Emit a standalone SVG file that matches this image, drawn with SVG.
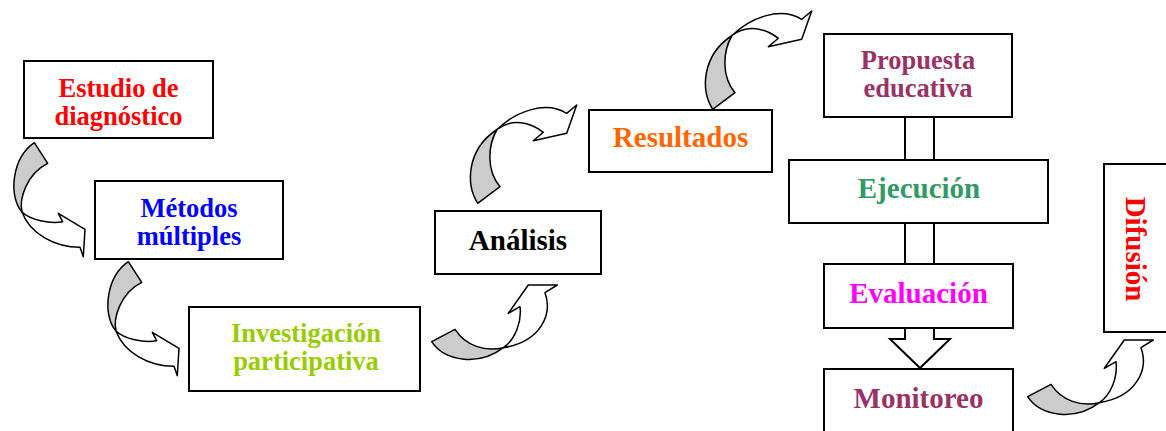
<svg xmlns="http://www.w3.org/2000/svg" xmlns:xlink="http://www.w3.org/1999/xlink" width="1166" height="431" viewBox="0 0 1166 431">
<style>
.box{fill:#fff;stroke:#000;stroke-width:2}
.t{font-family:"Liberation Serif","Times New Roman",serif;font-weight:bold;text-anchor:middle}
.s1{font-size:26.5px}
.s2{font-size:29px}
.back{fill:#cccccc;stroke:#000;stroke-width:1.5;stroke-linejoin:round}
.front{fill:#fff;stroke:#000;stroke-width:1.5;stroke-linejoin:round}
.ln{stroke:#000;stroke-width:2;fill:none}
</style>
<defs>
<g id="arrowA">
<path class="back" d="M34.3,142.7 C12,158 8,196 22,212 C19,200 26,174 47.7,163.3 Z"/>
<path class="front" d="M22,212 C30,220 50,224 62.7,221.7 L58.3,213.3 L85,229.3 L83.3,256.7 L80,247.3 C55,247 30,234 22,212 Z"/>
</g>
<g id="arrowB">
<path class="back" d="M477.7,203.3 C466,185 466,150 497,129.5 C488,145 486,170 500,186.7 Z"/>
<path class="front" d="M497,129.5 C515,112 545,100 566.7,113.3 L576.7,105 L566.7,133.3 L533.3,140.7 L543.3,132.3 C530,122 512,118 497,129.5 Z"/>
</g>
<g id="arrowC">
<path class="back" d="M431.7,341.7 C445,362 480,366 503.3,347.7 C485,352 466,346 455,329.3 Z"/>
<path class="front" d="M503.3,347.7 C515,340 522,322 520,306.7 L508.3,313.3 L528.3,285 L557.3,285 L545,292.7 C553,315 540,342 503.3,347.7 Z"/>
</g>
</defs>
<g id="connectors">
<use xlink:href="#arrowA"/>
<use xlink:href="#arrowA" transform="translate(94,119)"/>
<use xlink:href="#arrowC"/>
<use xlink:href="#arrowB"/>
<use xlink:href="#arrowB" transform="translate(235,-94)"/>
<use xlink:href="#arrowC" transform="translate(596,55)"/>
<line class="ln" x1="905" y1="117" x2="905" y2="160"/>
<line class="ln" x1="934" y1="117" x2="934" y2="160"/>
<line class="ln" x1="905" y1="223" x2="905" y2="264"/>
<line class="ln" x1="934" y1="223" x2="934" y2="264"/>
<path d="M905,328 L905,339 L890,339 L920,368 L950,339 L934,339 L934,328" fill="#fff" stroke="#000" stroke-width="2" stroke-linejoin="miter"/>
</g>
<g id="estudio">
<rect class="box" x="24" y="61" width="189" height="77"/>
<text class="t s1" x="118.5" y="96.5" fill="#ff0000">Estudio de</text>
<text class="t s1" x="118.5" y="124.5" fill="#ff0000">diagnóstico</text>
</g>
<g id="metodos">
<rect class="box" x="95" y="181" width="188" height="78"/>
<text class="t s1" x="189" y="216.5" fill="#0000ff">Métodos</text>
<text class="t s1" x="189" y="245" fill="#0000ff">múltiples</text>
</g>
<g id="investigacion">
<rect class="box" x="189" y="307" width="231" height="84"/>
<text class="t s1" x="306" y="341.5" fill="#99cc00">Investigación</text>
<text class="t s1" x="306" y="370" fill="#99cc00">participativa</text>
</g>
<g id="analisis">
<rect class="box" x="435" y="211" width="166" height="63"/>
<text class="t s2" x="518" y="249.5" fill="#000">Análisis</text>
</g>
<g id="resultados">
<rect class="box" x="589" y="110" width="183" height="62"/>
<text class="t s2" x="680.5" y="146.5" fill="#ff6600">Resultados</text>
</g>
<g id="propuesta">
<rect class="box" x="824" y="34" width="188" height="83"/>
<text class="t s1" x="918" y="69" fill="#993366">Propuesta</text>
<text class="t s1" x="918" y="97" fill="#993366">educativa</text>
</g>
<g id="ejecucion">
<rect class="box" x="789" y="160" width="259" height="63"/>
<text class="t s2" x="919" y="197.5" fill="#339966">Ejecución</text>
</g>
<g id="evaluacion">
<rect class="box" x="824" y="264" width="189" height="64"/>
<text class="t s2" x="918.5" y="303" fill="#ff00ff">Evaluación</text>
</g>
<g id="monitoreo">
<rect class="box" x="824" y="369" width="189" height="80"/>
<text class="t s2" x="918.5" y="408" fill="#993366">Monitoreo</text>
</g>
<g id="difusion">
<rect class="box" x="1104" y="164" width="80" height="168"/>
<text class="t s2" transform="translate(1126,249) rotate(90)" x="0" y="0" fill="#ff0000">Difusión</text>
</g>
</svg>
